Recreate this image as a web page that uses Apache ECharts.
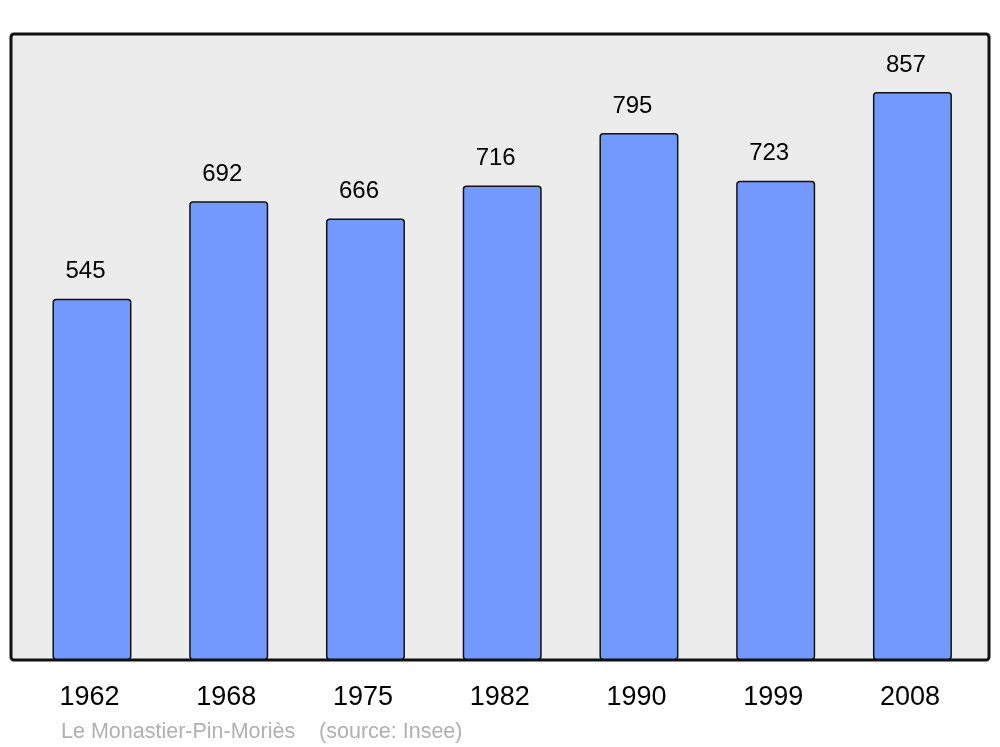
<!DOCTYPE html>
<html>
<head>
<meta charset="utf-8">
<script src="https://cdn.jsdelivr.net/npm/echarts@6/dist/echarts.min.js"></script>
<style>
html,body{margin:0;padding:0;background:#fff;}
#chart{width:1000px;height:747px;}
</style>
</head>
<body>
<div id="chart"></div>
<script>
const years = ['1962', '1968', '1975', '1982', '1990', '1999', '2008'];
const population = [545, 692, 666, 716, 795, 723, 857];
const footerText = 'Le Monastier-Pin-Moriès    (source: Insee)';

const chart = echarts.init(document.getElementById('chart'), null, {renderer: 'canvas'});
const FONT = '"Liberation Sans", Arial, sans-serif';

chart.setOption({
  animation: false,
  backgroundColor: '#ffffff',
  grid: {left: 23.6, right: 19.2, top: 34, bottom: 87, containLabel: false},
  xAxis: {
    type: 'category',
    data: years,
    axisLine: {show: false},
    axisTick: {show: false},
    axisLabel: {color: '#000', fontSize: 27, fontFamily: FONT, margin: 24, padding: [0, 5, 0, 0]}
  },
  yAxis: {
    type: 'value',
    min: 0,
    max: 944.5,
    show: false,
    splitLine: {show: false}
  },
  graphic: [
    {
      type: 'rect',
      z: 0,
      shape: {x: 11, y: 34, width: 978, height: 626, r: 3},
      style: {fill: '#ececec', stroke: '#111', lineWidth: 3}
    },
    {
      type: 'text',
      z: 10,
      left: 61,
      top: 721,
      style: {text: footerText, fill: '#b0b0b0', fontSize: 21.5, fontFamily: FONT}
    }
  ],
  series: [{
    type: 'bar',
    data: population,
    barWidth: 79,
    z: 5,
    itemStyle: {color: '#7399ff', borderColor: '#111', borderWidth: 1.5, borderRadius: 3},
    label: {show: true, position: 'top', distance: 15, offset: [-6.5, 0], color: '#000', fontSize: 24, fontFamily: FONT}
  }]
});
</script>
</body>
</html>
